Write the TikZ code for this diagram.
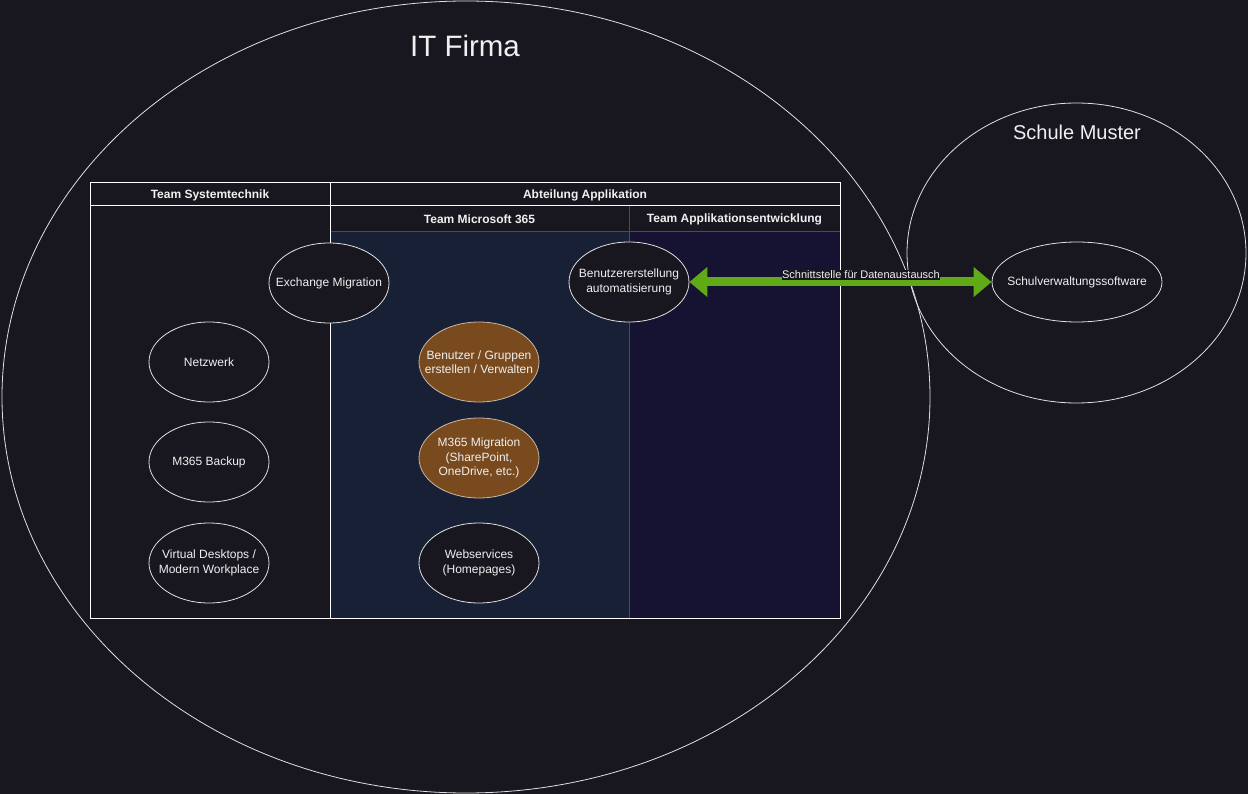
\documentclass[tikz,border=0pt]{standalone}
\usepackage{fontspec}
\setmainfont{Liberation Sans}
\usetikzlibrary{shapes.geometric,arrows.meta}
\definecolor{bg}{HTML}{18161E}
\definecolor{msfill}{HTML}{182035}
\definecolor{appfill}{HTML}{161232}
\definecolor{brownfill}{HTML}{784A1E}
\definecolor{lineg}{HTML}{4A4A5C}
\definecolor{arrowgreen}{HTML}{60A917}
\definecolor{txt}{HTML}{F0F0F0}
\tikzset{
  x=1pt, y=-1pt,
  oval/.style={ellipse, draw=white!88!black, line width=0.8pt, fill=bg, text=txt,
    minimum width=120pt, minimum height=80pt, inner sep=-25pt, align=center,
    font=\fontsize{12}{14.5}\selectfont},
  brownoval/.style={oval, fill=brownfill, draw=white!60!brownfill},
  bigoval/.style={ellipse, draw=white!88!black, line width=0.8pt, inner sep=0pt},
  hdr/.style={text=txt, font=\bfseries\fontsize{12}{14}\selectfont, inner sep=0pt},
  title/.style={text=txt, inner sep=0pt},
  frame/.style={draw=white, line width=1pt},
  greenarrow/.style={draw=arrowgreen, line width=9pt,
    {Triangle[width=29pt,length=18pt]}-{Triangle[width=29pt,length=18pt]}},
}
\begin{document}
\begin{tikzpicture}
\fill[bg] (0,0) rectangle (1248,794);
\useasboundingbox (0,0) rectangle (1248,794);
% big ellipses
\node[bigoval, minimum width=928pt, minimum height=792pt] (itfirma) at (466,397) {};
\node[title, font=\fontsize{29.5}{33}\selectfont] (ittitle) at (465,46) {IT Firma};
\node[bigoval, minimum width=339pt, minimum height=300pt] (schule) at (1076.5,253) {};
\node[title, font=\fontsize{20}{23}\selectfont] (schuletitle) at (1077,132) {Schule Muster};
% lanes
\fill[msfill] (330,231) rectangle (629,618);
\fill[appfill] (629,231) rectangle (840,618);
\draw[lineg, line width=0.6pt] (330,231) -- (840,231);
\draw[lineg, line width=0.6pt] (629,206) -- (629,618);
\draw[frame] (90,183) rectangle (330,618);
\draw[frame] (90,206) -- (330,206);
\draw[frame] (330,183) rectangle (840,618);
\draw[frame] (330,206) -- (840,206);
\node[hdr] (h1) at (210,195) {Team Systemtechnik};
\node[hdr] (h2) at (585,195) {Abteilung Applikation};
\node[hdr] (h3) at (479.5,219.5) {Team Microsoft 365};
\node[hdr] (h4) at (734.5,219.5) {Team Applikationsentwicklung};
% nodes
\node[oval] (exch) at (329,283) {Exchange Migration};
\node[oval] (netz) at (209,362) {Netzwerk};
\node[oval] (backup) at (209,462) {M365 Backup};
\node[oval] (vd) at (209,563) {Virtual Desktops /\\Modern Workplace};
\node[oval] (benauto) at (629,282) {Benutzererstellung\\automatisierung};
\node[brownoval] (bgrp) at (479,362) {Benutzer / Gruppen\\erstellen / Verwalten};
\node[brownoval] (mig) at (479,458) {M365 Migration\\(SharePoint,\\OneDrive, etc.)};
\node[oval] (web) at (479,563) {Webservices\\(Homepages)};
\node[oval, minimum width=170pt] (schulsw) at (1077,282) {Schulverwaltungssoftware};
% arrow
\draw[greenarrow] (benauto.east) -- (schulsw.west);
\node[fill=bg, text=txt, inner sep=0.6pt, font=\fontsize{11}{12}\selectfont] (lbl) at (861,275) {Schnittstelle für Datenaustausch};
\end{tikzpicture}
\end{document}
